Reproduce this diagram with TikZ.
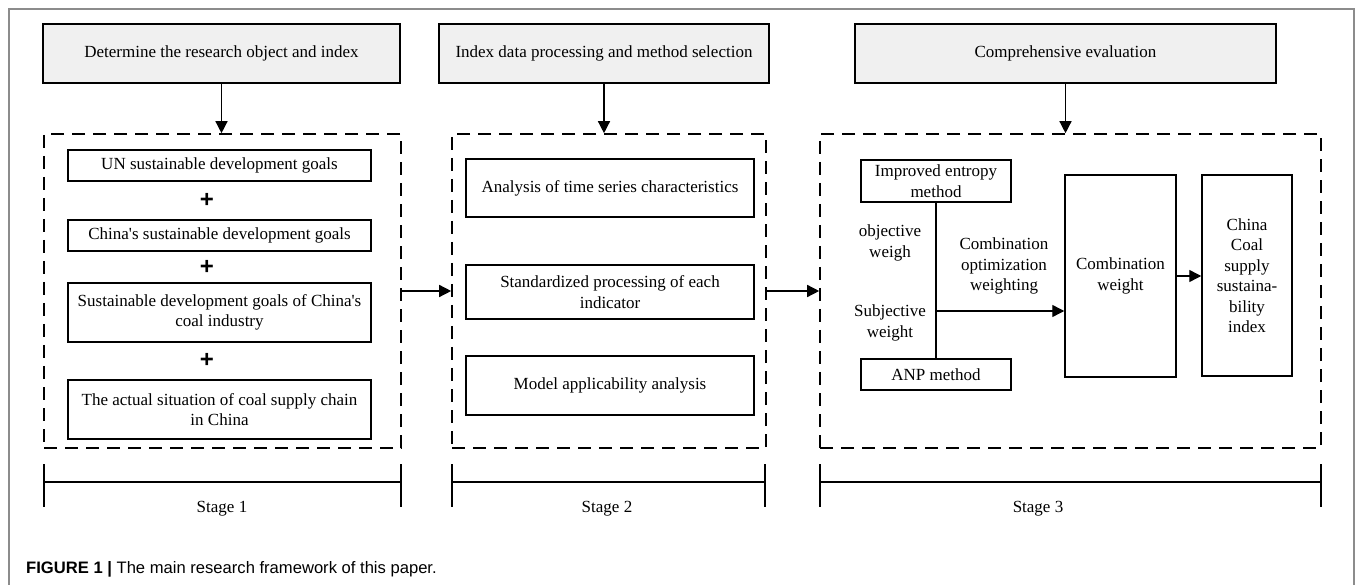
\documentclass[tikz,border=0pt]{standalone}
\usepackage{fontspec}
\setmainfont{Liberation Serif}
\setsansfont{Liberation Sans}
\usetikzlibrary{arrows.meta}
\definecolor{hdgray}{RGB}{240,240,240}
\definecolor{framegray}{RGB}{140,140,140}

\begin{document}
\begin{tikzpicture}[x=1pt, y=-1pt,
    every node/.style={font=\fontsize{17}{20.5}\selectfont, align=center, inner sep=0pt},
    hdbox/.style={draw, line width=1.5pt, fill=hdgray, minimum height=59pt},
    gbox/.style={draw, line width=1.5pt, minimum width=303pt},
    sbox/.style={draw, line width=1.5pt, minimum width=288pt},
    wbox/.style={draw, line width=1.5pt},
    dbox/.style={draw, line width=1.6pt, dash pattern=on 13pt off 8pt, minimum height=314pt},
    plus/.style={font=\sffamily\bfseries\fontsize{24}{24}\selectfont},
    arr/.style={line width=1.4pt, -{Triangle[length=12pt, width=12pt]}},
    stg/.style={line width=1.5pt}]
    \useasboundingbox (0,0) rectangle (1355,585);
    \draw[framegray, line width=1.2pt] (9,585) -- (9,9) -- (1354,9) -- (1354,585);

    % stage 1
    \node[hdbox, minimum width=357pt] (hd1) at (221.5,53.5) {Determine the research object and index};
    \node[dbox, minimum width=357pt] (fr1) at (222.5,291) {};
    \node[gbox, minimum height=31pt] (un) at (219.5,165.5) {UN sustainable development goals};
    \node[plus] (p1) at (207,200) {+};
    \node[gbox, minimum height=31pt] (cn) at (219.5,235.5) {China\textquotesingle s sustainable development goals};
    \node[plus] (p2) at (207,267) {+};
    \node[gbox, minimum height=59pt] (coal) at (219.5,312.5) {Sustainable development goals of China\textquotesingle s\\coal industry};
    \node[plus] (p3) at (207,360) {+};
    \node[gbox, minimum height=59pt] (act) at (219.5,409.5) {The actual situation of coal supply chain\\in China};
    \draw[arr] (hd1.south) -- (hd1.south |- fr1.north);

    % stage 2
    \node[hdbox, minimum width=330pt] (hd2) at (604,53.5) {Index data processing and method selection};
    \node[dbox, minimum width=314pt] (fr2) at (609,291) {};
    \node[sbox, minimum height=58pt] (ts) at (610,188) {Analysis of time series characteristics};
    \node[sbox, minimum height=54pt] (std) at (610,292) {Standardized processing of each\\indicator};
    \node[sbox, minimum height=59pt] (mod) at (610,385.5) {Model applicability analysis};
    \draw[arr] (hd2.south) -- (hd2.south |- fr2.north);

    % stage 3
    \node[hdbox, minimum width=421pt] (hd3) at (1065.5,53.5) {Comprehensive evaluation};
    \node[dbox, minimum width=501pt] (fr3) at (1070.5,291) {};
    \node[wbox, minimum width=150pt, minimum height=42pt] (ent) at (936,181) {Improved entropy\\method};
    \node[wbox, minimum width=150pt, minimum height=31pt] (anp) at (936,374.5) {ANP method};
    \node (obj) at (890,243) {objective\\weigh};
    \node (sub) at (890,323) {Subjective\\weight};
    \node (opt) at (1004,266) {Combination\\optimization\\weighting};
    \node[wbox, minimum width=111pt, minimum height=202pt] (cw) at (1120.5,276) {Combination\\weight};
    \node[wbox, minimum width=90pt, minimum height=201pt] (csi) at (1247,275.5) {China\\Coal\\supply\\sustaina-\\bility\\index};
    \coordinate (jn) at (936,311);
    \draw[line width=1.3pt] (ent) -- (anp);
    \draw[arr] (jn) -- (jn -| cw.west);
    \draw[arr] (cw.east) -- (cw.east -| csi.west);
    \draw[arr] (hd3.south) -- (hd3.south |- fr3.north);

    % between stages
    \draw[arr] (fr1.east) -- (fr2.west);
    \draw[arr] (fr2.east) -- (fr3.west);

    % stage scales
    \foreach \xa/\xb/\xl/\n in {44/401/222/1, 452/765/607/2, 820/1321/1038/3}{
        \draw[stg] (\xa,464) -- (\xa,507) (\xa,482) -- (\xb,482) (\xb,464) -- (\xb,507);
        \node (st\n) at (\xl,509) {Stage \n};
    }

    \node[anchor=west, font=\sffamily\fontsize{16.6}{20}\selectfont] (cap) at (26,569) {\textbf{FIGURE 1 |} The main research framework of this paper.};
\end{tikzpicture}
\end{document}
